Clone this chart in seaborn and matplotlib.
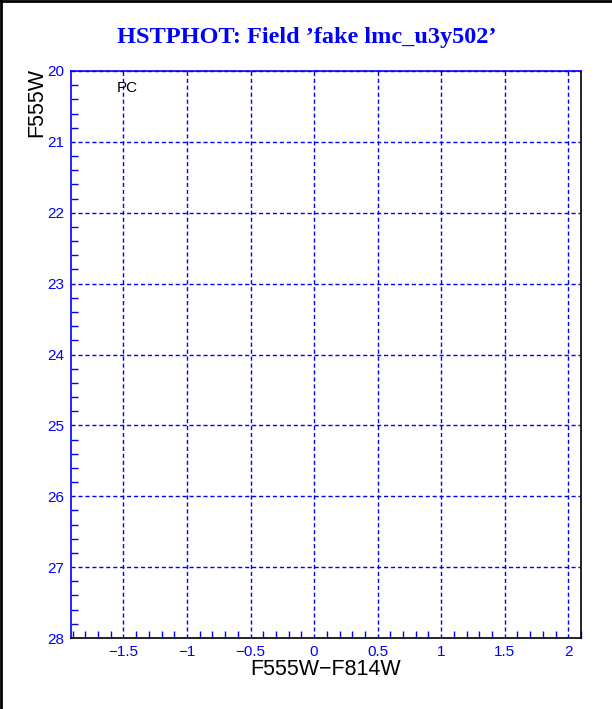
import numpy as np
import matplotlib
matplotlib.use('Agg')
import matplotlib.pyplot as plt
import seaborn as sns
from matplotlib.lines import Line2D

# Empty colour-magnitude diagram (no stars in the field)
star_color = np.array([])
star_mag = np.array([])

x_ticks = [-1.5, -1, -0.5, 0, 0.5, 1, 1.5, 2]
x_tick_labels = ['\u22121.5', '\u22121', '\u22120.5', '0', '0.5', '1', '1.5', '2']
y_ticks = [20, 21, 22, 23, 24, 25, 26, 27, 28]
y_tick_labels = ['20', '21', '22', '23', '24', '25', '26', '27', '28']

sns.set_style('white')
plt.rcParams['font.family'] = ['Liberation Sans', 'DejaVu Sans']

fig = plt.figure(figsize=(6.12, 7.09), dpi=100)
ax = fig.add_axes([71 / 612, 1 - 638 / 709, 510 / 612, 567 / 709])

sns.scatterplot(x=star_color, y=star_mag, ax=ax, color='black', s=4)

ax.set_xlim(-1.913, 2.10)
ax.set_ylim(28, 20)

ax.set_xticks(x_ticks)
ax.set_xticklabels(x_tick_labels)
ax.set_yticks(y_ticks)
ax.set_yticklabels(y_tick_labels)
ax.set_xticks(np.arange(-1.9, 2.11, 0.1), minor=True)
ax.set_yticks(np.arange(20, 28.01, 0.2), minor=True)

ax.tick_params(which='both', direction='in', colors='blue', labelcolor='blue',
               labelsize=11, width=1, bottom=True, left=True, top=False, right=False)
ax.tick_params(which='major', length=0, pad=5)
ax.tick_params(which='minor', length=5)

ax.grid(True, which='major', color='blue', linestyle=(0, (3, 2)), linewidth=1)

ax.spines['left'].set_color('blue')
ax.spines['top'].set_color('blue')
ax.spines['bottom'].set_color('black')
ax.spines['right'].set_color('black')
for sp in ax.spines.values():
    sp.set_linewidth(1.2)

ax.set_xlabel('F555W\u2212F814W', fontsize=15.5, color='black', labelpad=0)
ax.set_ylabel('F555W', fontsize=15.5, color='black')
ax.yaxis.set_label_coords(-0.047, 1.005)
ax.yaxis.label.set_verticalalignment('bottom')
ax.yaxis.label.set_horizontalalignment('right')

ax.text(-1.47, 20.24, 'PC', fontsize=11, color='black', ha='center', va='center')

fig.text(0.502, 1 - 38 / 709, 'HSTPHOT: Field \u2019fake lmc_u3y502\u2019',
         fontsize=17.5, fontweight='bold', color='blue', ha='center', va='center',
         family=['Liberation Serif', 'DejaVu Serif'])

# figure frame on the left and top edges
fig.add_artist(Line2D([0.001, 0.001], [0, 1], transform=fig.transFigure, color='black', lw=2))
fig.add_artist(Line2D([0, 1], [0.999, 0.999], transform=fig.transFigure, color='black', lw=2))

plt.savefig('out.png', dpi=100)
plt.close()
